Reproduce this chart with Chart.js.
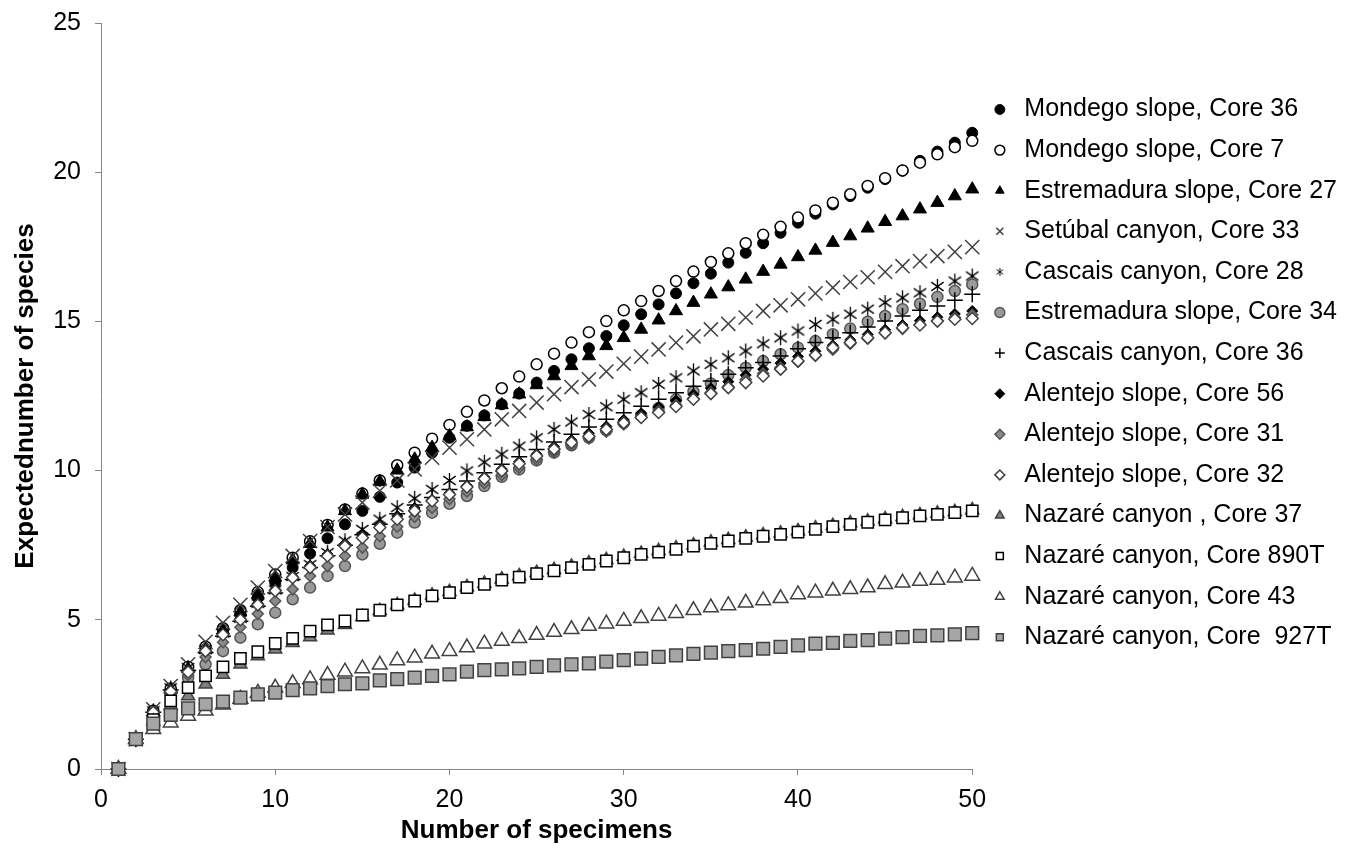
<!DOCTYPE html>
<html>
<head>
<meta charset="utf-8">
<title>Rarefaction curves</title>
<script src="https://cdn.jsdelivr.net/npm/chart.js@4.4.1/dist/chart.umd.min.js"></script>
<style>
  body { margin: 0; background: #ffffff; }
  canvas { display: block; }
</style>
</head>
<body>
<canvas id="rarefactionChart" width="1364" height="851"></canvas>
<script>
var FONT = '"Liberation Sans", Arial, sans-serif';

// x values: number of specimens
var specimens = [1, 2, 3, 4, 5, 6, 7, 8, 9, 10,
  11, 12, 13, 14, 15, 16, 17, 18, 19, 20,
  21, 22, 23, 24, 25, 26, 27, 28, 29, 30,
  31, 32, 33, 34, 35, 36, 37, 38, 39, 40,
  41, 42, 43, 44, 45, 46, 47, 48, 49, 50];

var xTicks = [0, 10, 20, 30, 40, 50];
var yTicks = [0, 5, 10, 15, 20, 25];

// expected number of species, one list per core
var mondego36 = [0, 1, 1.9, 2.65, 3.3, 4.0, 4.62, 5.21, 5.74, 6.24,
  6.75, 7.22, 7.73, 8.20, 8.65, 9.12, 9.6, 10.1, 10.6, 11.1,
  11.5, 11.85, 12.22, 12.58, 12.95, 13.34, 13.73, 14.10, 14.51, 14.87,
  15.24, 15.57, 15.94, 16.28, 16.60, 16.97, 17.30, 17.62, 17.97, 18.31,
  18.61, 18.92, 19.20, 19.48, 19.77, 20.05, 20.38, 20.69, 20.99, 21.32];

var mondego7 = [0, 1, 1.95, 2.7, 3.42, 4.1, 4.72, 5.32, 5.93, 6.52,
  7.08, 7.63, 8.18, 8.70, 9.23, 9.67, 10.18, 10.60, 11.07, 11.53,
  11.97, 12.35, 12.76, 13.15, 13.56, 13.92, 14.29, 14.64, 15.01, 15.37,
  15.68, 16.02, 16.35, 16.67, 16.99, 17.28, 17.62, 17.90, 18.17, 18.48,
  18.72, 18.98, 19.26, 19.54, 19.80, 20.06, 20.32, 20.60, 20.84, 21.05];

var estremadura27 = [0, 1, 1.9, 2.65, 3.35, 4.0, 4.65, 5.25, 5.85, 6.42,
  7.0, 7.55, 8.1, 8.65, 9.2, 9.63, 10.01, 10.38, 10.77, 11.16,
  11.46, 11.80, 12.2, 12.56, 12.87, 13.17, 13.51, 13.84, 14.18, 14.45,
  14.73, 15.04, 15.35, 15.63, 15.91, 16.15, 16.41, 16.67, 16.91, 17.16,
  17.38, 17.64, 17.86, 18.12, 18.34, 18.53, 18.76, 18.98, 19.20, 19.43];

var setubal33 = [0, 1, 2.0, 2.78, 3.51, 4.26, 4.90, 5.50, 6.08, 6.63,
  7.14, 7.64, 8.11, 8.53, 8.93, 9.32, 9.67, 10.04, 10.43, 10.77,
  11.05, 11.38, 11.72, 12.0, 12.28, 12.56, 12.8, 13.06, 13.32, 13.58,
  13.82, 14.06, 14.29, 14.5, 14.73, 14.92, 15.13, 15.35, 15.54, 15.74,
  15.94, 16.13, 16.32, 16.48, 16.66, 16.85, 17.02, 17.19, 17.33, 17.49];

var cascais28 = [0, 1, 1.95, 2.72, 3.4, 4.0, 4.55, 5.05, 5.55, 6.0,
  6.45, 6.85, 7.25, 7.65, 8.03, 8.37, 8.76, 9.07, 9.37, 9.67,
  9.99, 10.28, 10.55, 10.82, 11.10, 11.38, 11.63, 11.88, 12.14, 12.39,
  12.61, 12.89, 13.11, 13.34, 13.56, 13.78, 14.01, 14.25, 14.45, 14.68,
  14.90, 15.07, 15.24, 15.41, 15.63, 15.79, 15.96, 16.17, 16.35, 16.52];

var estremadura34 = [0, 1, 1.8, 2.5, 3.05, 3.51, 3.95, 4.40, 4.85, 5.24,
  5.69, 6.08, 6.47, 6.80, 7.19, 7.55, 7.92, 8.26, 8.59, 8.89,
  9.15, 9.48, 9.79, 10.04, 10.34, 10.60, 10.85, 11.1, 11.35, 11.6,
  11.85, 12.1, 12.38, 12.65, 12.92, 13.2, 13.45, 13.67, 13.90, 14.12,
  14.34, 14.57, 14.76, 14.99, 15.18, 15.41, 15.59, 15.82, 16.02, 16.24];

var cascais36 = [0, 1, 1.9, 2.65, 3.3, 3.9, 4.45, 4.95, 5.45, 5.9,
  6.35, 6.75, 7.15, 7.5, 7.85, 8.2, 8.55, 8.85, 9.1, 9.37,
  9.65, 9.93, 10.21, 10.46, 10.71, 10.96, 11.22, 11.46, 11.72, 11.94,
  12.16, 12.39, 12.61, 12.83, 13.0, 13.23, 13.45, 13.62, 13.84, 14.08,
  14.29, 14.45, 14.62, 14.81, 15.01, 15.18, 15.37, 15.52, 15.71, 15.91];

var alentejo56 = [0, 1, 1.92, 2.65, 3.3, 3.98, 4.55, 5.05, 5.55, 6.02,
  6.45, 6.82, 7.2, 7.55, 7.85, 8.18, 8.48, 8.75, 9.02, 9.25,
  9.5, 9.78, 10.05, 10.3, 10.55, 10.8, 11.02, 11.25, 11.48, 11.7,
  11.92, 12.13, 12.35, 12.55, 12.76, 12.98, 13.2, 13.4, 13.6, 13.82,
  14.0, 14.2, 14.38, 14.56, 14.72, 14.88, 15.02, 15.14, 15.25, 15.35];

var alentejo31 = [0, 1, 1.85, 2.55, 3.15, 3.75, 4.25, 4.75, 5.2, 5.63,
  6.02, 6.47, 6.8, 7.14, 7.42, 7.8, 8.12, 8.45, 8.75, 9.05,
  9.3, 9.58, 9.85, 10.1, 10.37, 10.62, 10.85, 11.08, 11.3, 11.55,
  11.78, 12.0, 12.2, 12.42, 12.62, 12.82, 13.05, 13.25, 13.45, 13.65,
  13.85, 14.05, 14.25, 14.42, 14.6, 14.75, 14.9, 15.02, 15.13, 15.22];

var alentejo32 = [0, 1, 1.9, 2.6, 3.25, 3.95, 4.5, 5.0, 5.5, 5.97,
  6.41, 6.75, 7.14, 7.47, 7.75, 8.09, 8.37, 8.65, 8.98, 9.20,
  9.45, 9.73, 9.99, 10.23, 10.49, 10.72, 10.94, 11.15, 11.38, 11.6,
  11.78, 11.95, 12.15, 12.39, 12.58, 12.78, 12.95, 13.17, 13.4, 13.67,
  13.87, 14.12, 14.29, 14.45, 14.62, 14.79, 14.88, 15.01, 15.07, 15.10];

var nazare37 = [0, 1, 1.6, 2.12, 2.45, 2.84, 3.17, 3.51, 3.79, 4.01,
  4.23, 4.42, 4.65, 4.83, 5.1, 5.3, 5.5, 5.65, 5.82, 5.94,
  6.1, 6.22, 6.36, 6.47, 6.58, 6.68, 6.79, 6.9, 7.01, 7.12,
  7.22, 7.31, 7.4, 7.5, 7.6, 7.68, 7.77, 7.84, 7.9, 7.98,
  8.07, 8.15, 8.24, 8.3, 8.38, 8.45, 8.51, 8.57, 8.62, 8.68];

var nazare890T = [0, 1, 1.65, 2.28, 2.73, 3.12, 3.42, 3.71, 3.93, 4.21,
  4.38, 4.62, 4.83, 4.96, 5.16, 5.32, 5.50, 5.63, 5.80, 5.91,
  6.08, 6.19, 6.33, 6.43, 6.55, 6.64, 6.75, 6.86, 6.97, 7.08,
  7.19, 7.27, 7.36, 7.47, 7.56, 7.64, 7.73, 7.80, 7.86, 7.94,
  8.03, 8.12, 8.2, 8.27, 8.35, 8.42, 8.48, 8.53, 8.59, 8.65];

var nazare43 = [0, 1, 1.33, 1.55, 1.78, 1.95, 2.15, 2.35, 2.55, 2.72,
  2.87, 3.0, 3.15, 3.26, 3.37, 3.49, 3.64, 3.73, 3.86, 3.95,
  4.07, 4.20, 4.29, 4.38, 4.49, 4.59, 4.68, 4.79, 4.87, 4.96,
  5.05, 5.13, 5.22, 5.32, 5.41, 5.48, 5.57, 5.65, 5.72, 5.85,
  5.91, 5.97, 6.02, 6.08, 6.19, 6.24, 6.30, 6.33, 6.41, 6.47];

var nazare927T = [0, 1, 1.52, 1.81, 2.03, 2.17, 2.26, 2.39, 2.50, 2.56,
  2.64, 2.70, 2.78, 2.84, 2.87, 2.97, 3.01, 3.06, 3.12, 3.17,
  3.26, 3.31, 3.34, 3.37, 3.42, 3.47, 3.51, 3.54, 3.60, 3.65,
  3.70, 3.76, 3.81, 3.86, 3.90, 3.95, 3.98, 4.03, 4.09, 4.14,
  4.20, 4.23, 4.29, 4.32, 4.37, 4.42, 4.46, 4.48, 4.51, 4.55];

// the Excel style asterisk marker is not built in, draw it on a small canvas
function makeAsterisk(size, lineWidth){
  var c = document.createElement('canvas');
  c.width = size;
  c.height = size;
  var g = c.getContext('2d');
  var m = size / 2;
  var r = size / 2 - 1;
  g.strokeStyle = '#000000';
  g.lineWidth = lineWidth;
  g.beginPath();
  g.moveTo(m, m - r); g.lineTo(m, m + r);
  g.moveTo(m - r * 0.82, m - r * 0.58); g.lineTo(m + r * 0.82, m + r * 0.58);
  g.moveTo(m + r * 0.82, m - r * 0.58); g.lineTo(m - r * 0.82, m + r * 0.58);
  g.stroke();
  return c;
}

var asteriskBig = makeAsterisk(17, 1.3);
var asteriskSmall = makeAsterisk(10, 1);

function toPoints(values){
  return specimens.map(function(n, i){
    return {x: n, y: values[i]};
  });
}

function series(label, values, style, radius, fill, border, width){
  return {
    label: label,
    data: toPoints(values),
    pointStyle: style,
    pointRadius: radius,
    pointHoverRadius: radius,
    pointBackgroundColor: fill,
    pointBorderColor: border,
    pointBorderWidth: width,
    backgroundColor: fill,
    borderColor: border,
    borderWidth: width,
    showLine: false,
    clip: false
  };
}

function drawChart(){

  var datasets = [
    series('Mondego slope, Core 36', mondego36, 'circle', 5.5, '#000000', '#000000', 1),
    series('Mondego slope, Core 7', mondego7, 'circle', 5.5, '#ffffff', '#000000', 1.5),
    series('Estremadura slope, Core 27', estremadura27, 'triangle', 7.5, '#000000', '#000000', 1),
    series('Setúbal canyon, Core 33', setubal33, 'crossRot', 10, '#404040', '#404040', 1.5),
    series('Cascais canyon, Core 28', cascais28, asteriskBig, 8, '#000000', '#000000', 1),
    series('Estremadura slope, Core 34', estremadura34, 'circle', 5.5, '#9a9a9a', '#555555', 1.5),
    series('Cascais canyon, Core 36', cascais36, 'cross', 8, '#000000', '#000000', 1.5),
    series('Alentejo slope, Core 56', alentejo56, 'rectRot', 5.5, '#000000', '#000000', 1),
    series('Alentejo slope, Core 31', alentejo31, 'rectRot', 5.5, '#8a8a8a', '#555555', 1.5),
    series('Alentejo slope, Core 32', alentejo32, 'rectRot', 6, '#ffffff', '#404040', 1.5),
    series('Nazaré canyon , Core 37', nazare37, 'triangle', 7.5, '#808080', '#404040', 1.5),
    series('Nazaré canyon, Core 890T', nazare890T, 'rect', 8, '#ffffff', '#000000', 1.5),
    series('Nazaré canyon, Core 43', nazare43, 'triangle', 8.5, '#ffffff', '#404040', 1.5),
    series('Nazaré canyon, Core  927T', nazare927T, 'rect', 9, '#a6a6a6', '#404040', 1.5)
  ];

  // Excel paints later series on top of earlier ones
  datasets.forEach(function(ds, i){
    ds.order = datasets.length - i;
  });

  var ctx = document.getElementById('rarefactionChart').getContext('2d');
  var chart = new Chart(ctx, {

    type: 'scatter',

    data: {
      datasets: datasets
    },

    options: {
      responsive: false,
      animation: false,
      layout: {
        padding: {top: 23, right: 17, bottom: 5, left: 0}
      },
      plugins: {
        tooltip: {enabled: false},
        legend: {
          position: 'right',
          align: 'start',
          maxWidth: 400,
          title: {
            display: true,
            text: ' ',
            font: {size: 2},
            padding: {top: 56, bottom: 0}
          },
          labels: {
            usePointStyle: true,
            boxWidth: 24,
            boxHeight: 7,
            padding: 15.6,
            color: '#000000',
            font: {family: FONT, size: 25},
            sort: function(a, b){
              return a.datasetIndex - b.datasetIndex;
            },
            generateLabels: function(chart){
              var items = Chart.defaults.plugins.legend.labels.generateLabels(chart);
              items.forEach(function(item){
                if (item.pointStyle === asteriskBig) {
                  item.pointStyle = asteriskSmall;
                }
              });
              return items;
            }
          }
        }
      },
      scales: {
        x: {
          type: 'linear',
          min: 0,
          max: 50,
          afterBuildTicks: function(scale){
            scale.ticks = xTicks.map(function(v){ return {value: v}; });
          },
          afterFit: function(scale){
            scale.height = 77;
          },
          ticks: {
            color: '#000000',
            padding: 10,
            maxRotation: 0,
            font: {family: FONT, size: 25}
          },
          grid: {
            drawOnChartArea: false,
            tickLength: 6,
            color: '#868686'
          },
          border: {color: '#868686', width: 1},
          title: {
            display: true,
            text: 'Number of specimens',
            color: '#000000',
            font: {family: FONT, size: 26, weight: 'bold'},
            padding: {top: 0, bottom: 0}
          }
        },
        y: {
          type: 'linear',
          min: 0,
          max: 25,
          afterBuildTicks: function(scale){
            scale.ticks = yTicks.map(function(v){ return {value: v}; });
          },
          afterFit: function(scale){
            scale.width = 101;
            scale.paddingTop = 0;
          },
          ticks: {
            color: '#000000',
            padding: 14,
            font: {family: FONT, size: 25}
          },
          grid: {
            drawOnChartArea: false,
            tickLength: 6,
            color: '#868686'
          },
          border: {color: '#868686', width: 1},
          title: {
            display: true,
            text: 'Expectednumber of species',
            color: '#000000',
            font: {family: FONT, size: 26, weight: 'bold'},
            padding: {top: 10, bottom: 0}
          }
        }
      }
    }
  });

  return chart;
}

drawChart();
</script>
</body>
</html>
